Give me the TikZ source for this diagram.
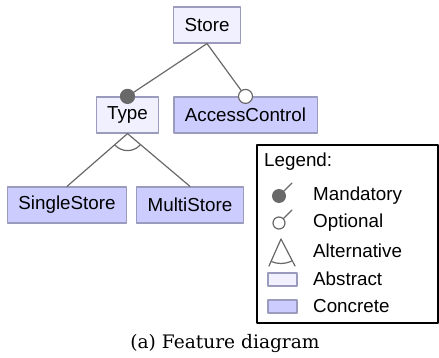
\documentclass[tikz,border=0pt]{standalone}
\usepackage{fontspec}
\setmainfont{Liberation Sans}
\newfontfamily\capfont{DejaVu Serif}
\usepackage{tikz}
\definecolor{abstractfill}{RGB}{240,240,255}
\definecolor{concretefill}{RGB}{204,204,255}
\definecolor{featborder}{RGB}{155,155,190}
\definecolor{edgegray}{RGB}{105,105,105}

\begin{document}
\begin{tikzpicture}[line cap=round,line join=round,x=1pt,y=-1pt,
  feat/.style={draw=featborder,line width=1.2pt,minimum height=36pt,inner xsep=11pt,font=\fontsize{18.8}{22}\selectfont},
  abstractfeat/.style={feat,fill=abstractfill},
  concretefeat/.style={feat,fill=concretefill},
  edge/.style={draw=edgegray,line width=1.2pt},
  legtext/.style={anchor=west,inner sep=0pt,font=\fontsize{18.8}{22}\selectfont}]
\useasboundingbox (0,0) rectangle (439,358);
\node[abstractfeat] (store) at (207,25) {Store};
\node[abstractfeat] (type) at (127.5,115) {Type};
\node[concretefeat] (access) at (245.5,115) {AccessControl};
\node[concretefeat] (single) at (67,205) {SingleStore};
\node[concretefeat] (multi) at (190,205) {MultiStore};
\draw [edge] (store.south) -- (type.north);
\draw [edge] (store.south) -- (access.north);
\draw [edge,fill=edgegray] (type.north) circle (7pt);
\draw [edge,fill=white] (access.north) circle (7pt);
\draw [edge] (type.south) -- (single.north);
\draw [edge] (type.south) -- (multi.north);
\begin{scope}
\clip (type.south) -- (single.north) -- (multi.north) -- cycle;
\draw [edge] (type.south) circle (17pt);
\end{scope}
\node[draw=black,line width=1.2pt,minimum width=181pt,minimum height=178pt] (legend) at (347.5,234) {};
\node[legtext] (legtitle) at (264,162) {Legend:};
\coordinate (mandc) at (279,196);
\coordinate (optc) at (279,223);
\coordinate (altc) at (281,239);
\draw [edge] (mandc) -- (292,183);
\fill [edgegray] (mandc) circle (7pt);
\draw [edge] (optc) -- (292,210);
\draw [edge,fill=white] (optc) circle (6pt);
\draw [edge] (269,266) -- (altc) -- (295,266);
\begin{scope}
\clip (altc) -- ++(-20,45) -- ++(43,0) -- cycle;
\draw [edge] (altc) circle (24.5pt);
\end{scope}
\node[draw=featborder,line width=1.2pt,fill=abstractfill,minimum width=29pt,minimum height=13pt,inner sep=0pt] (abstracticon) at (282.5,279.5) {};
\node[draw=featborder,line width=1.2pt,fill=concretefill,minimum width=29pt,minimum height=13pt,inner sep=0pt] (concreteicon) at (282.5,306.5) {};
\node[legtext] (mandlbl) at (313,196) {Mandatory};
\node[legtext] (optlbl) at (313,223) {Optional};
\node[legtext] (altlbl) at (313,251) {Alternative};
\node[legtext] (abslbl) at (313,279) {Abstract};
\node[legtext] (conlbl) at (313,306) {Concrete};
\node[font=\capfont\fontsize{18.6}{22}\selectfont] (caption) at (225,343) {(a) Feature diagram};
\end{tikzpicture}
\end{document}
